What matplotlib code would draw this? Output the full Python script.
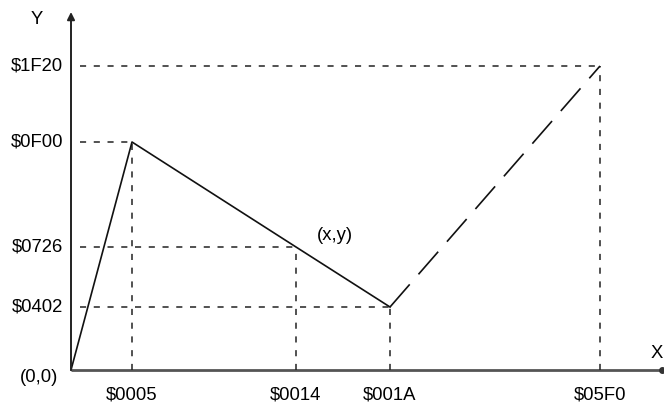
import matplotlib
matplotlib.use("Agg")
import matplotlib.pyplot as plt

plt.rcParams['font.family'] = ['Liberation Sans', 'DejaVu Sans']

# schematic chart: labels are hex values, positions are not to scale
x_labels = ["$0005", "$0014", "$001A", "$05F0"]
y_labels = ["$0F00", "$0726", "$0402", "$1F20"]
# schematic positions of the points (x, y) along the curve
pt_x = [0, 61, 225, 319, 529]
pt_y = [0, 228, 123, 63, 304]

fs = 13.3

fig = plt.figure(figsize=(6.64, 4.07), dpi=100)
ax = fig.add_axes([0, 0, 1, 1])
ax.set_xlim(-71, 593)
ax.set_ylim(-37, 370)
ax.axis("off")

# axes
ax.annotate("", xy=(0, 358), xytext=(0, 0),
            arrowprops=dict(arrowstyle="-|>", color="#222222", lw=1.4,
                            mutation_scale=11, shrinkA=0, shrinkB=0))
ax.plot([0, 593], [0, 0], color="#555555", lw=2.0, solid_capstyle="butt")
ax.plot([591], [0], "o", color="#333333", ms=4)
ax.text(-34, 351, "Y", fontsize=fs, ha="center", va="center")
ax.text(592, 17, "X", fontsize=fs, ha="right", va="center")
ax.text(-13, -8, "(0,0)", fontsize=fs, ha="right", va="center")

# guide lines
guide = dict(color="#222222", lw=1.1, dashes=(4, 5))
for xi, yi in zip(pt_x[1:], pt_y[1:]):
    ax.plot([9, xi], [yi, yi], **guide)
    ax.plot([xi, xi], [0, yi], **guide)

# y labels (order matches points 1..4)
for lab, yi in zip(y_labels, pt_y[1:]):
    ax.text(-8, yi, lab, fontsize=fs, ha="right", va="center")
for lab, xi in zip(x_labels, pt_x[1:]):
    ax.text(xi, -25, lab, fontsize=fs, ha="center", va="center")

# curve
ax.plot(pt_x[:4], pt_y[:4], color="#111111", lw=1.2)
ax.plot(pt_x[3:], pt_y[3:], color="#111111", lw=1.2, dashes=(18, 8))
ax.text(pt_x[2] + 39, pt_y[2] + 12, "(x,y)", fontsize=fs, ha="center", va="center")

fig.savefig("out.png", dpi=100)
